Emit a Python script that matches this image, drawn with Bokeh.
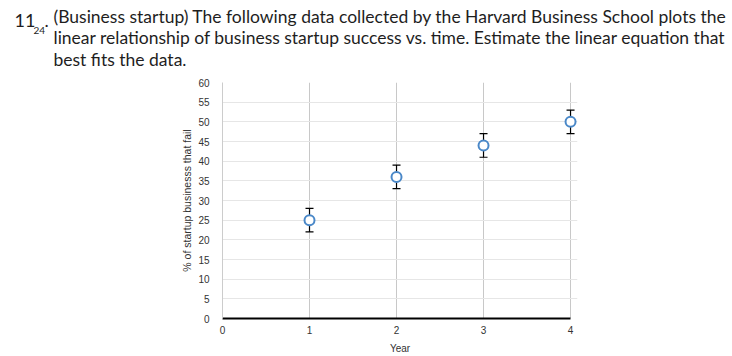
from bokeh.plotting import figure
from bokeh.models import ColumnDataSource, Whisker, Label, FixedTicker, Range1d, TeeHead
from bokeh.layouts import column
from bokeh.embed import file_html
from bokeh.resources import INLINE

years = [1, 2, 3, 4]
pct_fail = [25, 36, 44, 50]
err = [3, 3, 3, 3]
y_ticks = list(range(0, 61, 5))
x_ticks = [0, 1, 2, 3, 4]

title_lines = [
    "(Business startup) The following data collected by the Harvard Business School plots the",
    "linear relationship of business startup success vs. time. Estimate the linear equation that",
    "best fits the data.",
]

src = ColumnDataSource(dict(
    x=years, y=pct_fail,
    lo=[v - e for v, e in zip(pct_fail, err)],
    hi=[v + e for v, e in zip(pct_fail, err)],
))

W = 730
TH = 74
# ---- title figure (pixel-like data coordinates, y downwards)
t = figure(width=W, height=TH, output_backend="svg", toolbar_location=None,
           x_range=Range1d(0, W), y_range=Range1d(TH, 0),
           min_border=0, outline_line_color=None, frame_align=False)
t.axis.visible = False
t.grid.visible = False
font = "Lato"
col = "#1e1e1e"
t.add_layout(Label(x=14, y=26, text="11", text_font=font, text_font_size="18px", text_color=col))
t.add_layout(Label(x=33, y=33, text="24", text_font=font, text_font_size="10px", text_color=col))
t.add_layout(Label(x=44, y=26, text=".", text_font=font, text_font_size="18px", text_color=col))
for i, line in enumerate(title_lines):
    t.add_layout(Label(x=53, y=26 + 21.5 * i, text=line, text_font=font,
                       text_font_size="17.5px", text_color=col))

# ---- chart figure
H = 282
XMAX = 4.08          # a little room so the last marker is not clipped
FW = round(348 * XMAX / 4)
p = figure(width=W, height=H, output_backend="svg", toolbar_location=None,
           x_range=Range1d(0, XMAX), y_range=Range1d(0, 60),
           min_border_left=222, min_border_right=W - 222 - FW,
           min_border_top=8, min_border_bottom=H - 8 - 236, frame_align=False)
p.outline_line_color = None

for ax in (p.xaxis[0], p.yaxis[0]):
    ax.major_tick_line_color = None
    ax.minor_tick_line_color = None
    ax.major_label_text_font = "Liberation Sans"
    ax.major_label_text_font_size = "10px"
    ax.major_label_text_color = "#333333"
    ax.axis_label_text_font = "Liberation Sans"
    ax.axis_label_text_font_style = "normal"
    ax.axis_label_text_color = "#333333"

p.xaxis.ticker = FixedTicker(ticks=x_ticks)
p.yaxis.ticker = FixedTicker(ticks=y_ticks)
p.xaxis.bounds = (0, 4)
p.xaxis.axis_line_color = "black"
p.xaxis.axis_line_width = 2
p.xaxis.major_label_standoff = 1
p.xaxis.axis_label = "Year"
p.xaxis.axis_label_text_font_size = "10px"
p.xaxis.axis_label_standoff = 6
p.yaxis.axis_line_color = "#cccccc"
p.yaxis.major_label_standoff = 7
p.yaxis.axis_label = "% of startup businesss that fail"
p.yaxis.axis_label_text_font_size = "10.5px"
p.yaxis.axis_label_standoff = 2

p.xgrid.ticker = FixedTicker(ticks=[1, 2, 3, 4])
p.xgrid.grid_line_color = "#c8c8c8"
p.ygrid.grid_line_color = "#e6e6e6"
p.ygrid.bounds = (0, 4)

p.add_layout(Whisker(source=src, base="x", lower="lo", upper="hi",
                     line_color="black", line_width=1.2,
                     upper_head=TeeHead(size=8, line_color="black", line_width=1.2),
                     lower_head=TeeHead(size=8, line_color="black", line_width=1.2)))
p.scatter("x", "y", source=src, size=10, fill_color="white", line_color="#4a88c8", line_width=2)

layout = column(t, p, spacing=0)
open("out.html", "w").write(file_html(layout, INLINE))
